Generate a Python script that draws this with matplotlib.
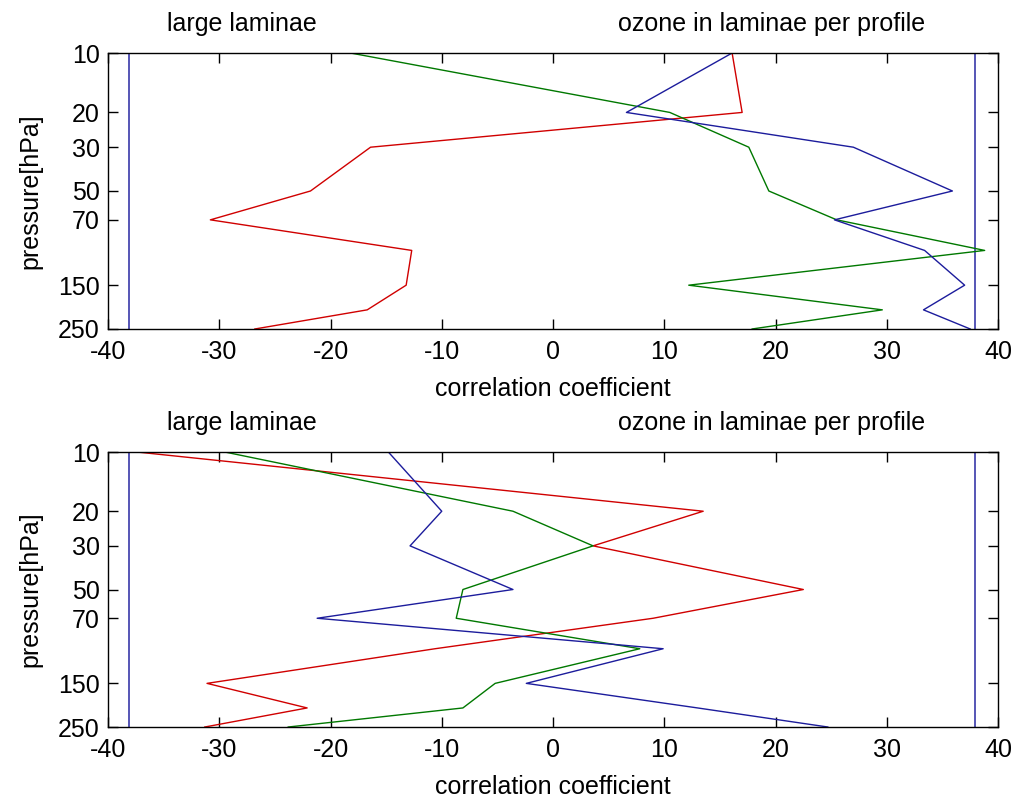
import matplotlib
matplotlib.use("Agg")
import matplotlib.pyplot as plt
from matplotlib.ticker import FixedLocator, NullLocator

plt.rcParams['font.family'] = ['Liberation Sans', 'DejaVu Sans']

# pressure levels [hPa]
pressure = [10, 20, 30, 50, 70, 100, 150, 200, 250]

# upper panel
red_top = [16.1, 17.0, -16.4, -21.8, -30.8, -12.7, -13.2, -16.7, -26.8]
green_top = [-18.2, 10.5, 17.6, 19.4, 25.5, 38.8, 12.2, 29.6, 17.9]
blue_top = [16.1, 6.6, 27.0, 35.9, 25.3, 33.4, 37.0, 33.3, 37.5]

# lower panel
red_bot = [-37.4, 13.5, 3.6, 22.5, 9.0, -10.6, -31.1, -22.1, -31.3]
green_bot = [-29.5, -3.6, 3.6, -8.1, -8.7, 7.8, -5.2, -8.1, -23.8]
blue_bot = [-14.8, -10.0, -12.85, -3.6, -21.2, 9.9, -2.4, 13.0, 24.7]

# significance limits
sig_limits = [-38.1, 37.9]

yticks = [10, 20, 30, 50, 70, 150, 250]
xticks = [-40, -30, -20, -10, 0, 10, 20, 30, 40]

c_red = '#d00000'
c_green = '#007800'
c_blue = '#1c1c9c'
c_sig = '#4848b0'

fig = plt.figure(figsize=(10.16, 8.02), dpi=100)
ax1 = fig.add_axes([0.1063, 0.5898, 0.876, 0.3441])
ax2 = fig.add_axes([0.1063, 0.0935, 0.876, 0.3429])

panels = [(ax1, red_top, green_top, blue_top),
          (ax2, red_bot, green_bot, blue_bot)]

for ax, r, g, b in panels:
    for s in sig_limits:
        ax.plot([s, s], [pressure[0], pressure[-1]], color=c_sig, lw=1.3)
    ax.plot(r, pressure, color=c_red, lw=1.0)
    ax.plot(g, pressure, color=c_green, lw=1.0)
    ax.plot(b, pressure, color=c_blue, lw=1.0)

    ax.set_yscale('log')
    ax.set_ylim(250, 10)
    ax.set_xlim(-40, 40)
    ax.yaxis.set_major_locator(FixedLocator(yticks))
    ax.yaxis.set_minor_locator(NullLocator())
    ax.set_yticklabels([str(t) for t in yticks])
    ax.set_xticks(xticks)
    ax.set_xticklabels([str(t) for t in xticks])
    ax.tick_params(direction='in', top=True, right=True, length=7,
                   width=1, labelsize=18, colors='black')
    ax.tick_params(axis='x', pad=8)
    ax.tick_params(axis='y', pad=6)
    for sp in ax.spines.values():
        sp.set_linewidth(1.0)

    ax.set_ylabel('pressure[hPa]', fontsize=18, labelpad=11)
    ax.set_xlabel('correlation coefficient', fontsize=18, labelpad=9)

    ax.text(0.15, 1.08, 'large laminae', transform=ax.transAxes,
            ha='center', va='baseline', fontsize=18)
    ax.text(0.745, 1.08, 'ozone in laminae per profile', transform=ax.transAxes,
            ha='center', va='baseline', fontsize=18)

fig.savefig('out.png', dpi=100)
